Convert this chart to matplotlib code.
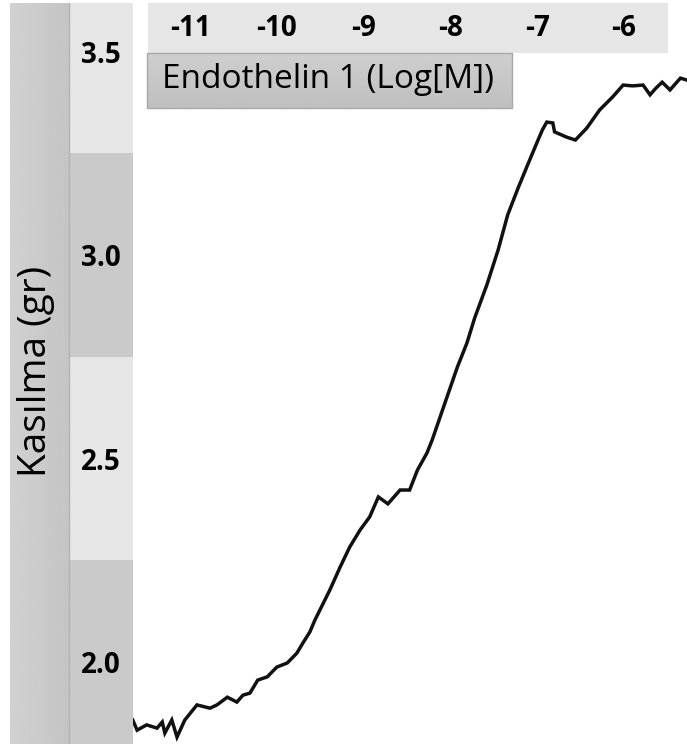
import matplotlib.pyplot as plt
import matplotlib.transforms as mtransforms
from matplotlib.patches import Rectangle
import numpy as np

# contraction trace, log concentration vs grams
log_conc = [-11.66, -11.61, -11.50, -11.38, -11.32, -11.29, -11.21, -11.15, -11.06,
            -10.92, -10.77, -10.69, -10.57, -10.46, -10.39, -10.31, -10.22, -10.11,
            -10.00, -9.88, -9.77, -9.70, -9.62, -9.56, -9.39, -9.27, -9.16, -9.04,
            -8.93, -8.83, -8.72, -8.58, -8.47, -8.38, -8.27, -8.21, -8.04, -7.92,
            -7.81, -7.72, -7.58, -7.45, -7.34, -7.22, -7.11, -7.00, -6.94, -6.89,
            -6.82, -6.80, -6.66, -6.56, -6.43, -6.28, -6.13, -6.01, -5.90, -5.78,
            -5.70, -5.63, -5.56, -5.47, -5.35, -5.27]
kasilma = [1.857, 1.832, 1.845, 1.837, 1.852, 1.825, 1.857, 1.815, 1.857,
           1.894, 1.886, 1.894, 1.913, 1.901, 1.918, 1.923, 1.955, 1.963,
           1.987, 1.997, 2.021, 2.046, 2.073, 2.103, 2.176, 2.233, 2.282, 2.324,
           2.356, 2.405, 2.388, 2.422, 2.422, 2.471, 2.513, 2.545, 2.650, 2.724,
           2.783, 2.845, 2.926, 3.012, 3.098, 3.164, 3.221, 3.277, 3.307, 3.326,
           3.324, 3.302, 3.289, 3.282, 3.311, 3.356, 3.388, 3.417, 3.415, 3.417,
           3.393, 3.410, 3.424, 3.405, 3.434, 3.429]

x_ticks = [-11, -10, -9, -8, -7, -6]
y_ticks = [3.5, 3.0, 2.5, 2.0]
x_title = "Endothelin 1 (Log[M])"
y_title = "Kasılma (gr)"

W, H = 687, 744
fig = plt.figure(figsize=(W / 100, H / 100), dpi=100)

# pixel-space background layer for the panels
bg = fig.add_axes([0, 0, 1, 1])
bg.set_xlim(0, W)
bg.set_ylim(H, 0)
bg.axis("off")

# data axes for the trace
ax = fig.add_axes([133 / W, 0, (W - 133) / W, 1])
ax.set_xlim(-11.657, -5.274)
ax.set_ylim(1.798, 3.626)
ax.axis("off")
ax.patch.set_alpha(0)

# left title band with soft gradient
grad = np.linspace(0.82, 0.77, 64).reshape(1, -1)
bg.imshow(grad, cmap="gray", vmin=0, vmax=1, extent=[10, 69, H, 3], aspect="auto")
bg.plot([69, 69], [3, H], color="#b2b2b2", lw=1)

# alternating tick bands
ydata = mtransforms.blended_transform_factory(bg.transData, ax.transData)
bands = [(3.25, 3.626, "#e6e6e6"), (2.75, 3.25, "#cacaca"),
         (2.25, 2.75, "#e6e6e6"), (1.7, 2.25, "#cacaca")]
top_px_val = 3.25 + 150 / 407
for lo, hi, c in bands:
    hi = min(hi, top_px_val)
    bg.add_patch(Rectangle((70, lo), 63, hi - lo, transform=ydata, color=c, lw=0))

label_shift = ydata + mtransforms.ScaledTranslation(0, -4 / 100, fig.dpi_scale_trans)
for v in y_ticks:
    bg.text(101, v, f"{v:.1f}", transform=label_shift, ha="center", va="center",
            fontsize=20, fontweight="bold", family="Open Sans")

# top tick bar
bg.add_patch(Rectangle((148, 3), 520, 50, color="#e6e6e6", lw=0))
xdata = mtransforms.blended_transform_factory(ax.transData, bg.transData)
for v in x_ticks:
    bg.text(v, 28, str(v), transform=xdata, ha="center", va="center",
            fontsize=20, fontweight="bold", family="Open Sans")

# x title box with vertical gradient
vgrad = np.linspace(0.81, 0.75, 64).reshape(-1, 1)
bg.imshow(vgrad, cmap="gray", vmin=0, vmax=1, extent=[147, 512, 108, 53], aspect="auto")
bg.add_patch(Rectangle((147, 53), 365, 55, fill=False, edgecolor="#a8a8a8", lw=1))
bg.text(162, 79, x_title, ha="left", va="center", fontsize=24, family="Open Sans")

bg.text(36, 371, y_title, rotation=90, ha="center", va="center",
        fontsize=28, family="Open Sans")

ax.plot(log_conc, kasilma, color="#111111", lw=2.5, solid_joinstyle="miter")

bg.set_xlim(0, W)
bg.set_ylim(H, 0)
fig.savefig("out.png", dpi=100)
